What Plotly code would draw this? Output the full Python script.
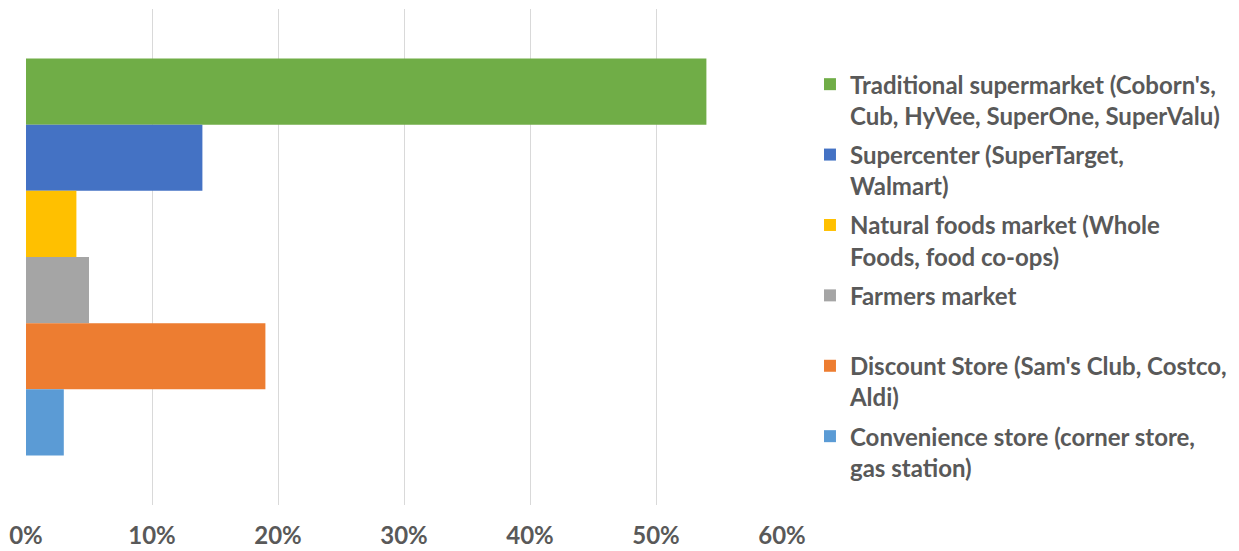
import plotly.graph_objects as go

# Share of respondents by primary grocery store type
store_types = [
    "Traditional supermarket (Coborn's,<br>Cub, HyVee, SuperOne, SuperValu)",
    "Supercenter (SuperTarget,<br>Walmart)",
    "Natural foods market (Whole<br>Foods, food co-ops)",
    "Farmers market<br>\u00a0",
    "Discount Store (Sam's Club, Costco,<br>Aldi)",
    "Convenience store (corner store,<br>gas station)",
]
shares = [0.54, 0.14, 0.04, 0.05, 0.19, 0.03]
colors = ["#70AD47", "#4472C4", "#FFC000", "#A5A5A5", "#ED7D31", "#5B9BD5"]

tick_vals = [0, 0.1, 0.2, 0.3, 0.4, 0.5, 0.6]
tick_text = ["0%", "10%", "20%", "30%", "40%", "50%", "60%"]

FONT = "Lato"
TEXT_COLOR = "#595959"

fig = go.Figure()
for i, (name, val, col) in enumerate(zip(store_types, shares, colors)):
    fig.add_trace(go.Bar(
        x=[val], y=[""], orientation="h", name=name,
        marker=dict(color=col, line=dict(width=0)),
        legendgroup=f"g{i}", hoverinfo="x+name",
    ))

fig.update_layout(
    width=1239, height=551,
    margin=dict(l=26, r=457, t=9, b=46, autoexpand=False),
    paper_bgcolor="white", plot_bgcolor="white",
    barmode="group", bargap=0.2, bargroupgap=0,
    font=dict(family=FONT, size=24, color=TEXT_COLOR, weight="bold"),
    xaxis=dict(
        range=[0, 0.6], tickvals=tick_vals, ticktext=tick_text,
        showgrid=True, gridcolor="#D9D9D9", gridwidth=1,
        zeroline=False, showline=False, ticks="", automargin=False,
        tickfont=dict(family=FONT, size=24, color=TEXT_COLOR, weight="bold"),
        ticklabelstandoff=14,
    ),
    yaxis=dict(
        autorange="reversed", showticklabels=False, showgrid=False,
        zeroline=False, showline=False, ticks="", automargin=False,
    ),
    legend=dict(
        x=1.037, xanchor="left", y=0.893, yanchor="top",
        valign="top", traceorder="grouped", tracegroupgap=5,
        font=dict(family=FONT, size=24, color=TEXT_COLOR, weight="bold"),
        bgcolor="rgba(0,0,0,0)",
    ),
    showlegend=True,
)

fig.write_html("out.html")
